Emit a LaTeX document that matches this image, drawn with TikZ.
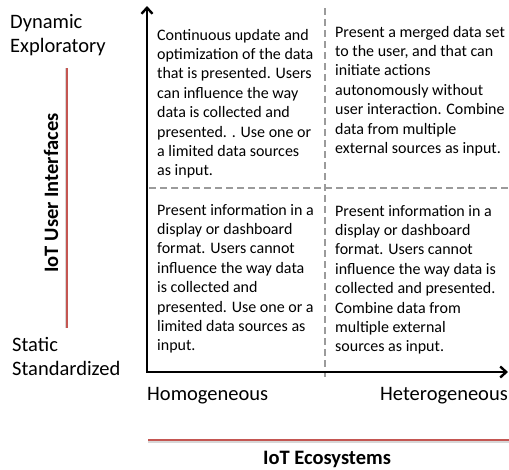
\documentclass[tikz,border=0pt]{standalone}
\usepackage{fontspec}
\setmainfont{Carlito}
\usetikzlibrary{arrows.meta}
\definecolor{accred}{RGB}{196,86,82}
\definecolor{dashgray}{RGB}{155,155,155}
\definecolor{shadowgray}{RGB}{215,215,215}
\begin{document}
\begin{tikzpicture}[x=1pt,y=-1pt,
  axisline/.style={line width=2.4pt, line join=miter,
    {Straight Barb[length=6pt,width=11pt]}-{Straight Barb[length=6pt,width=11pt]}},
  gridline/.style={draw=dashgray, line width=2.2pt, dash pattern=on 7pt off 4pt},
  redline/.style={draw=accred, line width=2pt},
  shadowline/.style={draw=shadowgray, line width=2pt},
  body/.style={anchor=north west, inner sep=0pt, align=left,
    font=\fontsize{16}{19.4}\selectfont},
  label/.style={anchor=north west, inner sep=0pt, align=left,
    font=\fontsize{20.5}{24.5}\selectfont},
  single/.style={anchor=base west, inner sep=0pt,
    font=\fontsize{20.5}{24.5}\selectfont},
  title/.style={inner sep=0pt, font=\fontsize{20.5}{24.5}\selectfont\bfseries}]
\useasboundingbox (0,0) rectangle (509,469);
% coordinates
\coordinate (O) at (147,372);
\coordinate (ytop) at (147,6);
\coordinate (xend) at (508,372);
\coordinate (vtop) at (325,8);
\coordinate (vbot) at (325,377);
\coordinate (hleft) at (149,188);
\coordinate (hright) at (509,188);
\coordinate (rv1) at (67,68);
\coordinate (rv2) at (67,328);
\coordinate (rh1) at (148,440);
\coordinate (rh2) at (509,440);
\coordinate (sv1) at (65.5,68);
\coordinate (sv2) at (65.5,328);
\coordinate (sh1) at (148,441.5);
\coordinate (sh2) at (509,441.5);
% dashed quadrant lines
\draw[gridline] (vtop) -- (vbot);
\draw[gridline] (hleft) -- (hright);
% axes
\draw[axisline] (ytop) -- (O) -- (xend);
% red title rules
\draw[shadowline] (sv1) -- (sv2);
\draw[redline] (rv1) -- (rv2);
\draw[shadowline] (sh1) -- (sh2);
\draw[redline] (rh1) -- (rh2);
% quadrant texts (top = first baseline - strut height 13.58)
\node[body] (tl) at (157,26.4) {\strut Continuous update and\\optimization of the data\\that is presented. Users\\can influence the way\\data is collected and\\presented. . Use one or\\a limited data sources\\as input.};
\node[body] (tr) at (335,23.4) {\strut Present a merged data set\\to the user, and that can\\initiate actions\\autonomously without\\user interaction. Combine\\data from multiple\\external sources as input.};
\node[body] (bl) at (157,201.4) {\strut Present information in a\\display or dashboard\\format. Users cannot\\influence the way data\\is collected and\\presented. Use one or a\\limited data sources as\\input.};
\node[body] (br) at (335,202.4) {\strut Present information in a\\display or dashboard\\format. Users cannot\\influence the way data is\\collected and presented.\\Combine data from\\multiple external\\sources as input.};
% axis labels (top = first baseline - strut height 17.15)
\node[label] (dyn) at (10,10.9) {\strut Dynamic\\Exploratory};
\node[label] (stat) at (12,333.9) {\strut Static\\Standardized};
\node[single] (homo) at (147,400) {Homogeneous};
\node[single] (hetero) at (380,400) {Heterogeneous};
\node[title, anchor=base] (eco) at (327,464.5) {IoT Ecosystems};
\node[title, rotate=90] (ui) at (51,193) {IoT User Interfaces};
\end{tikzpicture}
\end{document}
